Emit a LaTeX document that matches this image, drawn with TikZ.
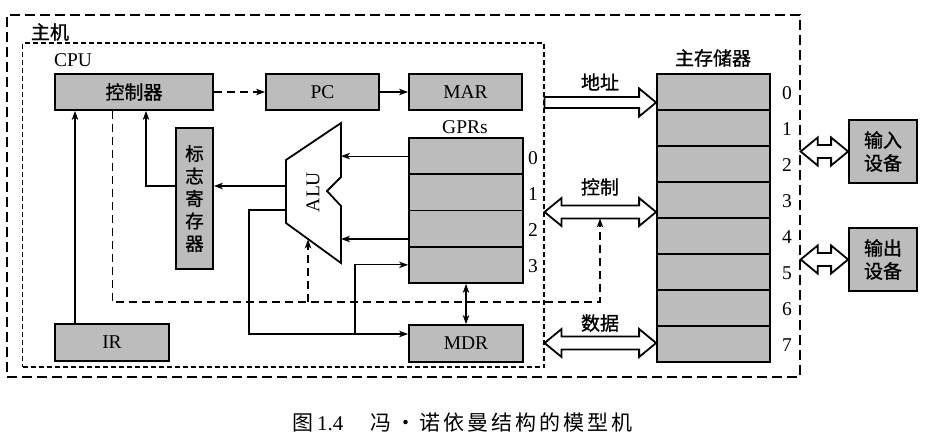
\documentclass[tikz,border=0pt]{standalone}
\usepackage{fontspec}
\setmainfont{Liberation Serif}
\newfontfamily\cjk[FakeBold=1.0]{Noto Sans CJK SC}
\newfontfamily\cjkplain{Noto Sans CJK SC}
\newfontfamily\cjkcap[LetterSpace=14]{Noto Sans CJK SC}
\usetikzlibrary{arrows.meta,calc}
\definecolor{boxgray}{RGB}{188,188,188}
\newcommand\hollowdbl[2]{%
  \draw[hollow] (#1) -- ($(#1)+(17,-14)$) -- ($(#1)+(17,-6.5)$) -- ($(#2)+(-17,-6.5)$)
   -- ($(#2)+(-17,-14)$) -- (#2) -- ($(#2)+(-17,14)$) -- ($(#2)+(-17,6.5)$)
   -- ($(#1)+(17,6.5)$) -- ($(#1)+(17,14)$) -- cycle;}
\begin{document}
\begin{tikzpicture}[x=1pt,y=-1pt,
  gbox/.style={draw,line width=1.8pt,fill=boxgray,inner sep=0pt},
  lat/.style={font=\fontsize{19.5}{22}\selectfont},
  zh/.style={font=\cjk\fontsize{19}{22}\selectfont},
  tip/.tip={Stealth[length=9pt,width=6.5pt,inset=2.5pt]},
  arr/.style={line width=1.1pt,-tip},
  darr/.style={line width=1.1pt,tip-tip},
  ctl/.style={line width=1.1pt,dash pattern=on 8pt off 5pt},
  hollow/.style={draw,line width=1.8pt,fill=white,line join=miter}]
\useasboundingbox (0,0) rectangle (928,442);

% containers
\node[draw,line width=1.3pt,dash pattern=on 10pt off 5pt,minimum width=793pt,minimum height=362pt,inner sep=0pt] (host) at (403.5,196) {};
\node[draw,line width=1.1pt,dash pattern=on 5pt off 3pt,minimum width=521.5pt,minimum height=324pt,inner sep=0pt] (cpu) at (283.25,205) {};
\node[zh] (hostlbl) at (50,32) {主机};
\node[lat] (cpulbl) at (73,60) {CPU};

% CPU components
\node[gbox,minimum width=158pt,minimum height=36pt,zh] (ctrl) at (134,92) {控制器};
\node[gbox,minimum width=113pt,minimum height=36pt,lat] (pc) at (322.5,92) {PC};
\node[gbox,minimum width=113pt,minimum height=36pt,lat] (mar) at (465.5,92) {MAR};
\node[gbox,minimum width=37pt,minimum height=141pt,align=center,font=\cjk\fontsize{18.5}{22.5}\selectfont] (flag) at (194.5,198.5) {标\\志\\寄\\存\\器};
\node[gbox,minimum width=114pt,minimum height=37pt,lat] (ir) at (112,342.5) {IR};
\node[gbox,minimum width=114pt,minimum height=37pt,lat] (mdr) at (466,343.5) {MDR};
\node[lat] (gprlbl) at (465,127) {GPRs};
\foreach \i in {0,...,3} {
  \node[gbox,minimum width=114pt,minimum height=36.25pt] (g\i) at (466,{156.1+36.25*\i}) {};
  \node[lat] (gn\i) at (533,{158.5+36*\i}) {\i};
}

% ALU
\draw[line width=1.8pt,fill=white,line join=miter] (341,123) -- (341,177) -- (327,191) -- (341,206) -- (341,263) -- (286,223) -- (286,160) -- cycle;
\node[lat,rotate=90] (alu) at (313,192) {ALU};
\coordinate (aluO) at (286,186);
\coordinate (aluL2) at (286,210);
\coordinate (aluR) at (341,0);
\coordinate (aluI2) at (341,239);
\coordinate (aluB) at (308,239.5);

% memory
\node[zh] (memlbl) at (713,58) {主存储器};
\foreach \i in {0,...,7} {
  \node[gbox,minimum width=113pt,minimum height=36pt] (m\i) at (713.5,{92+36*\i}) {};
  \node[lat] (mn\i) at (787,{93+36*\i}) {\i};
}

% devices
\node[gbox,minimum width=68pt,minimum height=63pt,align=center,font=\cjk\fontsize{19}{23}\selectfont] (in) at (883,151.5) {输入\\设备};
\node[gbox,minimum width=68pt,minimum height=63pt,align=center,font=\cjk\fontsize{19}{23}\selectfont] (out) at (883,259.5) {输出\\设备};

% connectors inside CPU
\draw[arr,dash pattern=on 8pt off 5pt] (ctrl.east) -- (pc.west);
\draw[arr] (pc.east) -- (mar.west);
\draw[arr] ([xshift=-37pt]ir.north) -- ([xshift=-37pt]ir.north |- ctrl.south);
\draw[arr] (aluO) -- (flag.east |- aluO);
\draw[arr] (flag.west |- aluO) -| ([xshift=12pt]ctrl.south);
\draw[arr] (g0.west) -- (aluR |- g0.west);
\draw[arr] (g2.west |- aluI2) -- (aluI2);
\draw[arr] (aluL2) -- (249,210) |- ([yshift=9.5pt]mdr.west);
\draw[arr] (355,334) |- (g3.west);
\draw[darr] (g3.south) -- (mdr.north);

% buses
\coordinate (addrL) at (cpu.east |- 0,102.5);
\coordinate (addrR) at (m0.west |- 0,102.5);
\draw[hollow] ($(addrL)+(0,-5.5)$) -- ($(addrR)+(-17,-5.5)$) -- ($(addrR)+(-17,-14)$) -- (addrR)
  -- ($(addrR)+(-17,14)$) -- ($(addrR)+(-17,5.5)$) -- ($(addrL)+(0,5.5)$) -- cycle;
\node[zh] (addrlbl) at (600,82) {地址};
\coordinate (ctlL) at (cpu.east |- 0,212);
\coordinate (ctlR) at (m0.west |- 0,212);
\hollowdbl{ctlL}{ctlR}
\node[zh] (ctllbl) at (600,187) {控制};
\coordinate (datL) at (cpu.east |- 0,343);
\coordinate (datR) at (m0.west |- 0,343);
\hollowdbl{datL}{datR}
\node[zh] (datlbl) at (600,323) {数据};
\coordinate (inL) at (host.east |- in.west);
\hollowdbl{inL}{in.west}
\coordinate (outL) at (host.east |- out.west);
\hollowdbl{outL}{out.west}

% control (dashed) lines
\coordinate (ctlB) at (600,218.5);
\draw[ctl,-tip] ([xshift=-21.5pt]ctrl.south) |- (ctlB |- 0,302) -- (ctlB);
\draw[ctl,-tip] (aluB |- 0,302) -- (aluB);

% caption
\node[font=\fontsize{21}{24}\selectfont,anchor=west] (cap) at (289,423) {{\cjkplain 图}\,1.4\hspace{1.3em}{\cjkcap 冯\,•\,诺依曼结构的模型机}};
\end{tikzpicture}
\end{document}
